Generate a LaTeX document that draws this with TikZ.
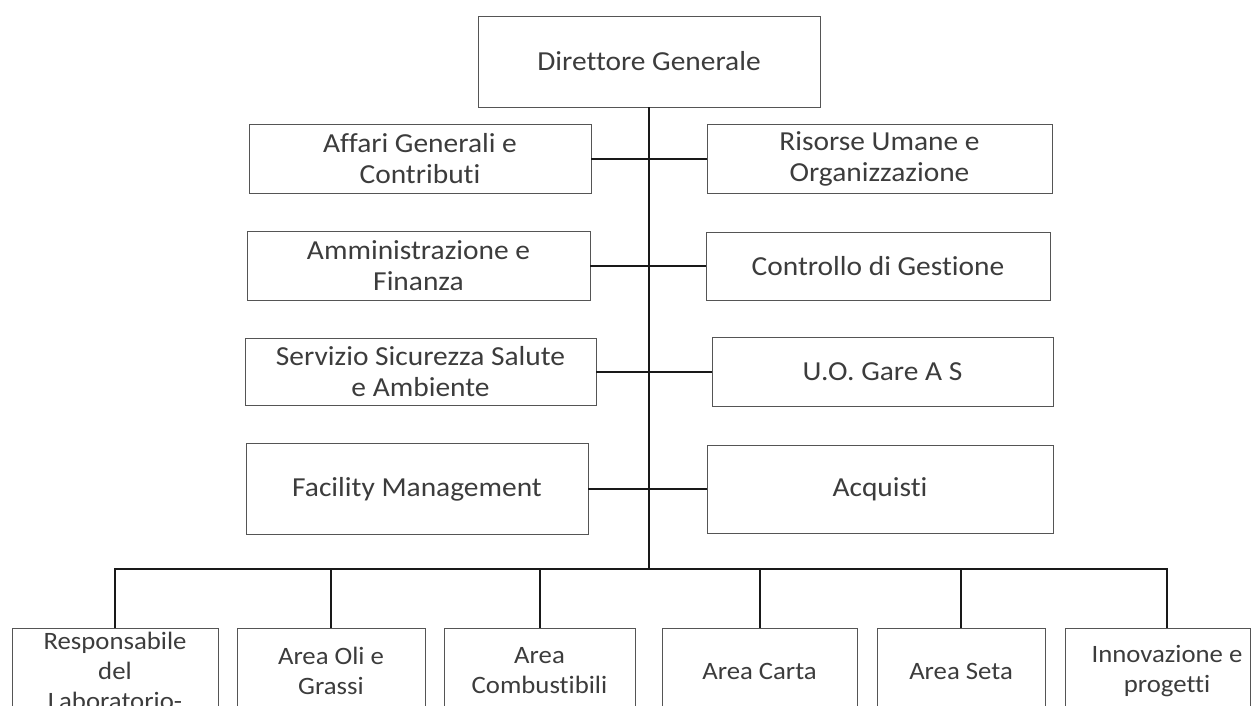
\documentclass[tikz,border=0pt]{standalone}
\usepackage{fontspec}
\setmainfont{Carlito}[FakeStretch=1.07, Ligatures=NoCommon]
\definecolor{boxgray}{HTML}{555555}
\definecolor{txtgray}{HTML}{3C3C3C}
\begin{document}
\begin{tikzpicture}[x=1pt,y=-1pt,
  box/.style={draw=boxgray, line width=0.9pt, rectangle, inner sep=0pt, align=center,
    text=txtgray, font=\fontsize{27.5pt}{31pt}\selectfont},
  bbox/.style={box, font=\fontsize{25pt}{30pt}\selectfont, minimum height=86pt},
  link/.style={draw=black!90, line width=2pt, line join=miter}]
\useasboundingbox (0,0) rectangle (1260,705);
\clip (0,0) rectangle (1260,705);
% top
\node[box, minimum width=342pt, minimum height=91pt] (dg) at (649,61.5) {Direttore Generale};
% left column
\node[box, minimum width=342pt, minimum height=69pt] (af) at (420,158.5) {Affari Generali e\\Contributi};
\node[box, minimum width=343pt, minimum height=69pt] (am) at (418.5,266) {Amministrazione e\\Finanza};
\node[box, minimum width=351pt, minimum height=67pt] (se) at (420.5,372) {Servizio Sicurezza Salute\\e Ambiente};
\node[box, minimum width=342pt, minimum height=91pt] (fa) at (417,489) {Facility Management};
% right column
\node[box, minimum width=345pt, minimum height=69pt] (ri) at (879.5,158.5) {Risorse Umane e\\Organizzazione};
\node[box, minimum width=344pt, minimum height=68pt] (co) at (878,266) {Controllo di Gestione};
\node[box, minimum width=341pt, minimum height=69pt] (uo) at (882.5,372) {U.O. Gare A S};
\node[box, minimum width=346pt, minimum height=88pt] (ac) at (880,489) {Acquisti};
% bottom row
\node[bbox, minimum width=206pt] (b1) at (115,671) {Responsabile\\del\\Laboratorio-};
\node[bbox, minimum width=188pt] (b2) at (331,671) {Area Oli e\\Grassi};
\node[bbox, minimum width=191pt] (b3) at (539.5,671) {Area\\Combustibili};
\node[bbox, minimum width=195pt] (b4) at (759.5,671) {Area Carta};
\node[bbox, minimum width=168pt] (b5) at (961,671) {Area Seta};
\node[bbox, minimum width=185pt] (b6) at (1157.5,671) {};
\node[text=txtgray, align=center, inner sep=0pt, font=\fontsize{25pt}{30pt}\selectfont] (b6t) at (1167,671) {Innovazione e\\progetti};
\coordinate (b6top) at (1167,628);
\coordinate (bar) at (648,569);
% connectors
\draw[link] (dg.south) -- (dg.south |- bar);
\draw[link] (af.east) -- (ri.west);
\draw[link] (am.east) -- (co.west);
\draw[link] (se.east) -- (uo.west);
\draw[link] (fa.east) -- (ac.west);
\draw[link] (b1.north) -- (b1.north |- bar) -- (b6top |- bar) -- (b6top);
\draw[link] (b2.north) -- (b2.north |- bar);
\draw[link] (b3.north) -- (b3.north |- bar);
\draw[link] (b4.north) -- (b4.north |- bar);
\draw[link] (b5.north) -- (b5.north |- bar);
\end{tikzpicture}
\end{document}
